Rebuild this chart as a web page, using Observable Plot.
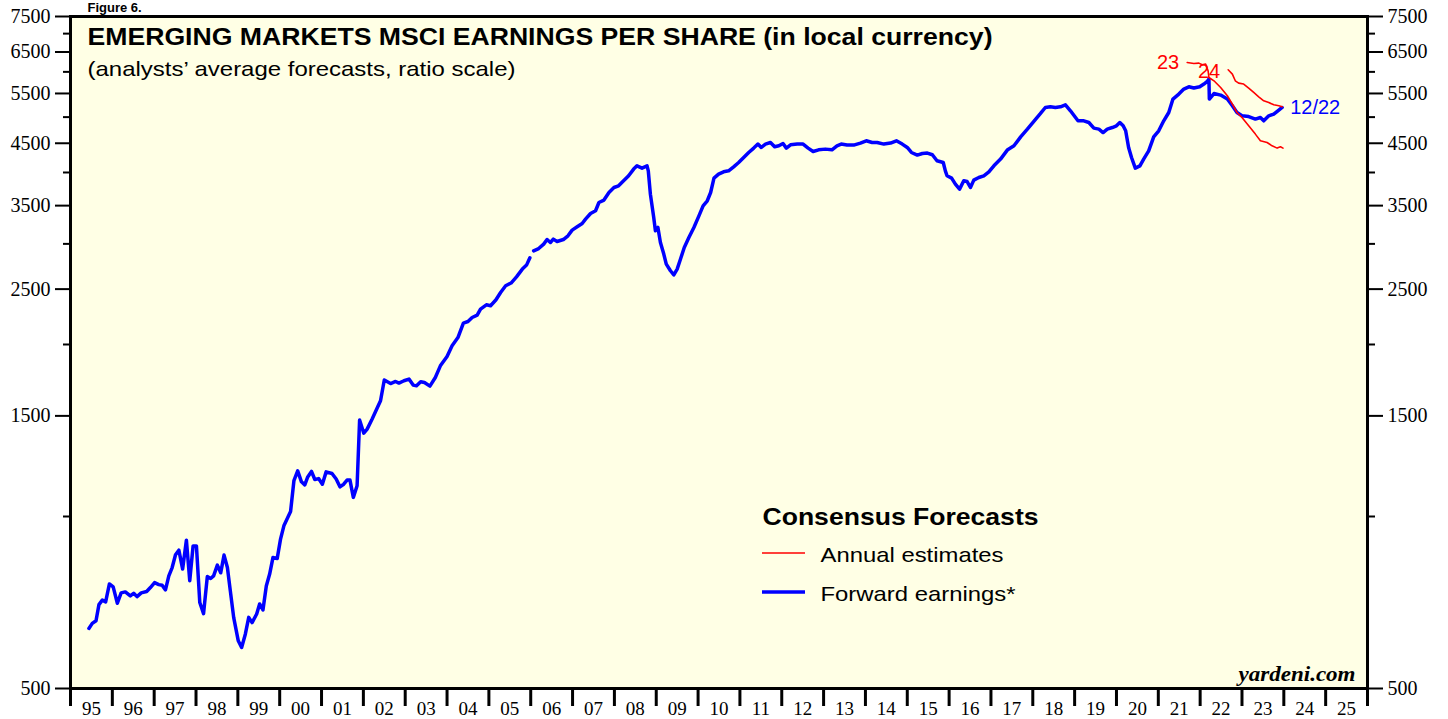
<!DOCTYPE html>
<html>
<head>
<meta charset="utf-8">
<script src="https://cdn.jsdelivr.net/npm/d3@7"></script>
<script src="https://cdn.jsdelivr.net/npm/@observablehq/plot@0.6"></script>
<style>
  html, body { margin: 0; padding: 0; background: white; }
  #chart { position: relative; width: 1448px; height: 719px; overflow: hidden; }
</style>
</head>
<body>
<div id="chart"></div>
<script>
// ---- Data ----
const fwdYears = [
  1995.44,1995.52,1995.61,1995.68,1995.76,1995.84,1995.93,1996.02,1996.12,1996.21,
  1996.31,1996.43,1996.51,1996.59,1996.69,1996.82,1996.91,1997.01,1997.11,1997.19,
  1997.27,1997.35,1997.43,1997.51,1997.59,1997.68,1997.77,1997.85,1997.93,1998.01,
  1998.09,1998.18,1998.27,1998.35,1998.42,1998.51,1998.59,1998.67,1998.75,1998.82,
  1998.90,1999.01,1999.09,1999.18,1999.26,1999.34,1999.45,1999.52,1999.60,1999.68,
  1999.76,1999.84,1999.94,2000.02,2000.10,2000.26,2000.34,2000.43,2000.52,2000.60,
  2000.67,2000.76,2000.84,2000.93,2001.02,2001.11,2001.25,2001.35,2001.44,2001.53,
  2001.61,2001.68,2001.76,2001.85,2001.91,2002.01,2002.09,2002.21,2002.33,2002.41,
  2002.50,2002.65,2002.77,2002.85,2002.97,2003.09,2003.19,2003.27,2003.37,2003.46,
  2003.59,2003.72,2003.84,2004.00,2004.12,2004.26,2004.39,2004.50,2004.60,2004.72,
  2004.80,2004.94,2005.04,2005.17,2005.28,2005.40,2005.53,2005.66,2005.80,2005.90,
  2005.98,2006.02,2006.07,2006.19,2006.31,2006.39,2006.47,2006.54,2006.63,2006.78,
  2006.89,2006.99,2007.11,2007.23,2007.31,2007.43,2007.55,2007.63,2007.75,2007.87,
  2007.99,2008.10,2008.22,2008.34,2008.46,2008.54,2008.66,2008.78,2008.81,2008.86,
  2008.94,2008.98,2009.04,2009.10,2009.18,2009.24,2009.34,2009.42,2009.50,2009.58,
  2009.67,2009.78,2009.90,2010.02,2010.12,2010.22,2010.30,2010.38,2010.49,2010.61,
  2010.73,2010.85,2010.97,2011.09,2011.21,2011.33,2011.43,2011.51,2011.61,2011.73,
  2011.83,2011.93,2012.03,2012.11,2012.21,2012.37,2012.51,2012.63,2012.75,2012.88,
  2013.04,2013.20,2013.32,2013.42,2013.56,2013.72,2013.88,2014.02,2014.16,2014.28,
  2014.44,2014.60,2014.74,2014.88,2015.00,2015.10,2015.24,2015.36,2015.48,2015.60,
  2015.71,2015.86,2015.91,2015.95,2016.06,2016.15,2016.25,2016.35,2016.43,2016.51,
  2016.59,2016.71,2016.83,2016.95,2017.07,2017.23,2017.39,2017.55,2017.71,2017.87,
  2018.02,2018.18,2018.30,2018.42,2018.54,2018.66,2018.78,2018.90,2019.08,2019.22,
  2019.34,2019.46,2019.58,2019.68,2019.78,2019.90,2020.00,2020.08,2020.16,2020.22,
  2020.29,2020.36,2020.45,2020.56,2020.65,2020.77,2020.89,2021.01,2021.13,2021.25,
  2021.35,2021.49,2021.61,2021.73,2021.85,2021.99,2022.09,2022.17,2022.21,2022.22,
  2022.33,2022.49,2022.65,2022.77,2022.88,2023.00,2023.16,2023.32,2023.44,2023.52,
  2023.64,2023.76,2023.88,2023.96
];
const fwdValues = [
  637,650,657,701,714,709,762,753,705,735,
  738,726,734,724,735,739,751,766,760,758,
  744,787,814,857,873,809,909,772,888,888,
  707,676,785,779,787,822,797,856,814,741,
  666,606,590,623,666,652,675,703,686,756,
  793,848,844,913,963,1020,1155,1202,1150,1136,
  1173,1199,1161,1165,1139,1197,1189,1163,1127,1139,
  1158,1158,1080,1132,1475,1399,1422,1481,1548,1594,
  1733,1709,1723,1712,1728,1740,1698,1693,1721,1716,
  1691,1751,1835,1906,1990,2057,2180,2194,2230,2251,
  2307,2347,2338,2395,2466,2534,2562,2627,2710,2754,
  2836,null,2917,2944,2997,3053,3017,3058,3029,3053,
  3099,3171,3214,3257,3315,3391,3428,3544,3579,3690,
  3765,3791,3868,3947,4055,4109,4071,4109,4027,3666,
  3336,3162,3205,3017,2879,2765,2692,2648,2710,2822,
  2957,3078,3205,3359,3497,3569,3690,3910,3974,4011,
  4027,4092,4164,4249,4336,4413,4485,4424,4485,4514,
  4436,4454,4496,4413,4472,4485,4485,4413,4353,4383,
  4395,4383,4454,4485,4467,4467,4503,4545,4514,4514,
  4485,4503,4545,4485,4424,4336,4290,4318,4325,4296,
  4193,4164,4027,3947,3910,3817,3741,3868,3857,3765,
  3879,3920,3947,4011,4109,4222,4378,4454,4618,4764,
  4912,5070,5198,5212,5198,5212,5254,5129,4926,4926,
  4893,4783,4764,4699,4764,4795,4828,4893,4828,4732,
  4424,4249,4071,4109,4222,4365,4618,4732,4926,5094,
  5377,5486,5598,5650,5621,5650,5712,5772,5828,5377,
  5499,5464,5377,5233,5094,5026,5012,4960,4992,4926,
  5026,5061,5143,5198
];
// Annual estimate for 2023
const est23Years = [2021.69,2021.85,2021.97,2022.05,2022.13,2022.19,2022.21,2022.33,2022.49,2022.65,
  2022.77,2022.88,2023.00,2023.16,2023.32,2023.44,2023.60,2023.72,2023.84,2023.92,2023.98];
const est23Values = [6231,6206,6216,6174,6191,6026,5866,5788,5634,5449,
  5270,5094,4992,4828,4669,4545,4514,4454,4413,4436,4413];
// Annual estimate for 2024
const est24Years = [2022.67,2022.77,2022.84,2022.92,2023.04,2023.16,2023.28,2023.40,2023.52,2023.64,2023.76,2023.88,2023.96];
const est24Values = [6050,5947,5788,5734,5712,5621,5522,5427,5340,5303,5254,5233,5212];

const yMajorTicks = [500,1500,2500,3500,4500,5500,6500,7500];
const yMinorTicks = [1000,2000,3000,4000,5000,6000,7000];
const yearTicks = d3.range(1995, 2027);
const yearLabelPos = d3.range(1995.5, 2026, 1);

const figureText = "Figure 6.";
const titleText = "EMERGING MARKETS MSCI EARNINGS PER SHARE (in local currency)";
const subtitleText = "(analysts\u2019 average forecasts, ratio scale)";
const legendTitle = "Consensus Forecasts";
const legendItems = ["Annual estimates", "Forward earnings*"];
const sourceText = "yardeni.com";
const lastDateLabel = "12/22";

// ---- Build tables ----
const fwd = fwdYears.map((t, i) => ({t, v: fwdValues[i]}));
const e23 = est23Years.map((t, i) => ({t, v: est23Values[i]}));
const e24 = est24Years.map((t, i) => ({t, v: est24Values[i]}));

const SANS = "'Liberation Sans', Arial, Helvetica, sans-serif";
const SERIF = "'Liberation Serif', 'Times New Roman', serif";

function legendSwatches() {
  const ns = "http://www.w3.org/2000/svg";
  const g = document.createElementNS(ns, "g");
  for (const [y, color, w] of [[553, "#ff0000", 1.7], [592, "#0000ff", 3.4]]) {
    const l = document.createElementNS(ns, "line");
    l.setAttribute("x1", 762); l.setAttribute("x2", 805);
    l.setAttribute("y1", y); l.setAttribute("y2", y);
    l.setAttribute("stroke", color); l.setAttribute("stroke-width", w);
    g.appendChild(l);
  }
  return g;
}

const chart = Plot.plot({
  width: 1448,
  height: 719,
  marginLeft: 70,
  marginRight: 81,
  marginTop: 16,
  marginBottom: 31,
  style: {fontFamily: SERIF, fontSize: "20px", background: "white", color: "black"},
  x: {type: "linear", domain: [1995, 2026]},
  y: {type: "log", domain: [500, 7500]},
  marks: [
    Plot.frame({fill: "#ffffe5", stroke: null}),
    // y axes, left and right
    Plot.axisY({anchor: "left", ticks: yMajorTicks, tickSize: 15, tickPadding: 5, strokeWidth: 2, tickFormat: d => String(d), label: null, fill: "black"}),
    Plot.axisY({anchor: "left", ticks: yMinorTicks, tickSize: 7, strokeWidth: 2, tickFormat: () => "", label: null}),
    Plot.axisY({anchor: "right", ticks: yMajorTicks, tickSize: 15, tickPadding: 5, strokeWidth: 2, tickFormat: d => String(d), label: null, fill: "black"}),
    Plot.axisY({anchor: "right", ticks: yMinorTicks, tickSize: 7, strokeWidth: 2, tickFormat: () => "", label: null}),
    // x axis: year boundary ticks and centred year labels
    Plot.axisX({anchor: "bottom", ticks: yearTicks, tickSize: 18, strokeWidth: 3, tickFormat: () => "", label: null}),
    Plot.axisX({anchor: "bottom", ticks: yearLabelPos, tickSize: 0, tickPadding: 13, fontSize: 19, tickFormat: d => String(Math.floor(d) % 100).padStart(2, "0"), label: null, fill: "black"}),
    // series
    Plot.line(fwd, {x: "t", y: "v", stroke: "#0000ff", strokeWidth: 3.5, strokeLinejoin: "round"}),
    Plot.line(e23, {x: "t", y: "v", stroke: "#ff0000", strokeWidth: 1.6}),
    Plot.line(e24, {x: "t", y: "v", stroke: "#ff0000", strokeWidth: 1.6}),
    // series labels
    Plot.text([e23[0]], {x: "t", y: "v", text: () => "23", dx: -8, dy: 0, textAnchor: "end", lineAnchor: "middle", fill: "#ff0000", fontFamily: SANS, fontSize: 20}),
    Plot.text([e24[0]], {x: "t", y: "v", text: () => "24", dx: -8, dy: 1.5, textAnchor: "end", lineAnchor: "middle", fill: "#ff0000", fontFamily: SANS, fontSize: 20}),
    Plot.text([fwd[fwd.length - 1]], {x: "t", y: "v", text: () => lastDateLabel, dx: 8, dy: 0, textAnchor: "start", lineAnchor: "middle", fill: "#0000ff", fontFamily: SANS, fontSize: 20}),
    // frame border
    Plot.frame({stroke: "black", strokeWidth: 3}),
    // titles
    Plot.text([figureText], {frameAnchor: "top-left", dx: 17, dy: -9, textAnchor: "start", lineAnchor: "middle", fontFamily: SANS, fontWeight: "bold", fontSize: 13, fill: "black"}),
    Plot.text([titleText], {frameAnchor: "top-left", dx: 17, dy: 20.6, textAnchor: "start", lineAnchor: "middle", fontFamily: SANS, fontWeight: "bold", fontSize: 24, fill: "black"}),
    Plot.text([subtitleText], {frameAnchor: "top-left", dx: 17, dy: 53, textAnchor: "start", lineAnchor: "middle", fontFamily: SANS, fontSize: 21, fill: "black"}),
    // legend
    Plot.text([legendTitle], {frameAnchor: "top-left", dx: 692, dy: 501.3, textAnchor: "start", lineAnchor: "middle", fontFamily: SANS, fontWeight: "bold", fontSize: 24, fill: "black"}),
    Plot.text([legendItems[0]], {frameAnchor: "top-left", dx: 750, dy: 539, textAnchor: "start", lineAnchor: "middle", fontFamily: SANS, fontSize: 21, fill: "black"}),
    Plot.text([legendItems[1]], {frameAnchor: "top-left", dx: 750, dy: 578, textAnchor: "start", lineAnchor: "middle", fontFamily: SANS, fontSize: 21, fill: "black"}),
    legendSwatches,
    // source
    Plot.text([sourceText], {frameAnchor: "bottom-right", dx: -12, dy: -14, textAnchor: "end", lineAnchor: "middle", fontFamily: SERIF, fontWeight: "bold", fontStyle: "italic", fontSize: 20, fill: "black"})
  ]
});

// stretch long texts to the widths seen in the reference
const widths = new Map([
  [titleText, 905], [subtitleText, 428], [legendTitle, 276],
  [legendItems[0], 183], [legendItems[1], 195], [sourceText, 117]
]);
chart.querySelectorAll("text").forEach(t => {
  const w = widths.get(t.textContent);
  if (w) { t.setAttribute("textLength", w); t.setAttribute("lengthAdjust", "spacingAndGlyphs"); }
});

document.getElementById("chart").appendChild(chart);
</script>
</body>
</html>
